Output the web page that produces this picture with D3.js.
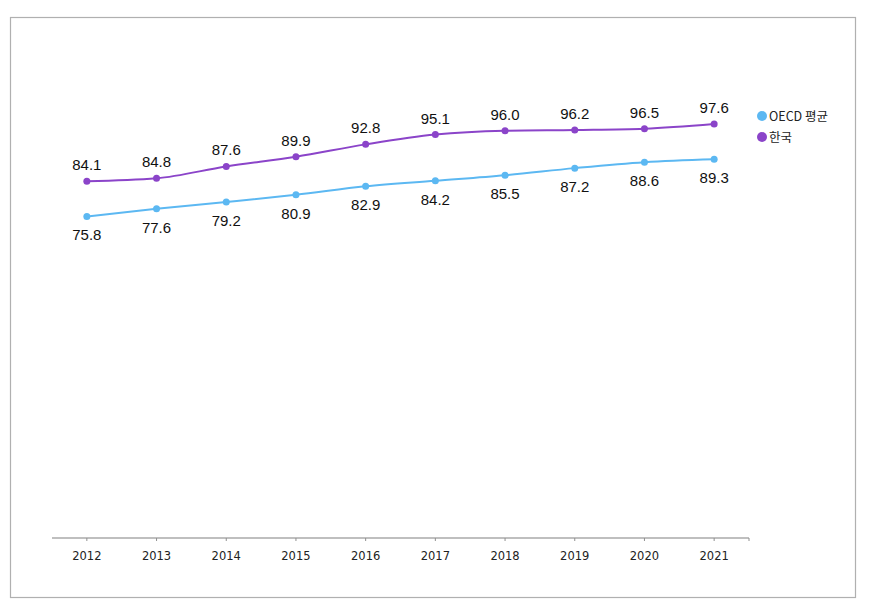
<!DOCTYPE html>
<html><head><meta charset="utf-8">
<script src="https://cdn.jsdelivr.net/npm/d3@7/dist/d3.min.js"></script>
<style>body{margin:0;background:#fff}</style>
</head><body>
<svg id="c" width="869" height="606"></svg>
<script>
const years = ["2012","2013","2014","2015","2016","2017","2018","2019","2020","2021"];
const oecd = [75.8,77.6,79.2,80.9,82.9,84.2,85.5,87.2,88.6,89.3];
const korea = [84.1,84.8,87.6,89.9,92.8,95.1,96.0,96.2,96.5,97.6];
const seriesNames = ["OECD 평균","한국"];
const colors = ["#5cb8f2","#8b44c9"];

const svg = d3.select("#c");
svg.append("rect").attr("x",10.5).attr("y",17.5).attr("width",845).attr("height",580)
  .attr("fill","#fff").attr("stroke","#b0b0b0").attr("stroke-width",1.2);

const x = d3.scaleBand().domain(years).range([52,749]);
const y = d3.scaleLinear().domain([0,120]).range([538,29]);
const cx = d => x(d)+x.bandwidth()/2;

// axis
const ax = svg.append("g").attr("transform","translate(0,538)");
ax.append("line").attr("x1",52).attr("x2",749).attr("stroke","#808080").attr("stroke-width",1.2);
ax.selectAll(".t").data(years).enter().append("line")
  .attr("x1",d=>cx(d)).attr("x2",d=>cx(d)).attr("y1",0).attr("y2",3).attr("stroke","#909090");
ax.append("line").attr("x1",749).attr("x2",749).attr("y1",0).attr("y2",3).attr("stroke","#909090");
ax.selectAll(".l").data(years).enter().append("text")
  .attr("x",d=>cx(d)).attr("y",22).attr("text-anchor","middle")
  .attr("font-family","'DejaVu Sans', sans-serif").attr("font-size",11.5).attr("fill","#222")
  .text(d=>d);

const data = [oecd, korea];
const line = d3.line().x((d,i)=>cx(years[i])).y(d=>y(d)).curve(d3.curveMonotoneX);
data.forEach((s,k)=>{
  svg.append("path").datum(s).attr("d",line).attr("fill","none")
    .attr("stroke",colors[k]).attr("stroke-width",2);
  svg.selectAll(".p"+k).data(s).enter().append("circle")
    .attr("cx",(d,i)=>cx(years[i])).attr("cy",d=>y(d)).attr("r",3.5).attr("fill",colors[k]);
  svg.selectAll(".v"+k).data(s).enter().append("text")
    .attr("x",(d,i)=>cx(years[i])).attr("y",d=>k===1 ? y(d)-11 : y(d)+24)
    .attr("text-anchor","middle").attr("font-family","'Liberation Sans', Arial, sans-serif")
    .attr("font-size",15).attr("fill","#111").text(d=>d.toFixed(1));
});

// legend
const lg = svg.append("g");
seriesNames.forEach((n,k)=>{
  const yy = 116 + k*21;
  lg.append("circle").attr("cx",762).attr("cy",yy).attr("r",5).attr("fill",colors[k]);
  lg.append("text").attr("x",769).attr("y",yy+4.5)
    .attr("font-family","'Noto Sans CJK KR', sans-serif").attr("font-size",12.5).attr("fill","#222").text(n);
});
</script>
</body></html>
